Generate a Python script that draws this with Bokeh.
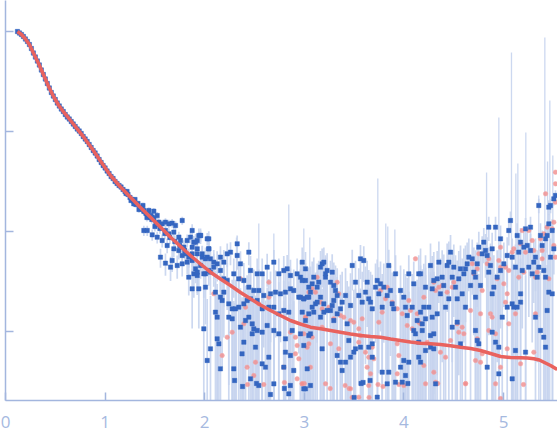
import numpy as np
from bokeh.plotting import figure
from bokeh.models import Range1d, FixedTicker
from bokeh.embed import file_html
from bokeh.resources import INLINE

# ---------------- data (q in 1/nm, intensity as log10 values) -------------
q_low = [0.12,0.14,0.16,0.18,0.20,0.22,0.24,0.26,0.28,0.30,0.32,0.34,0.36,0.38,0.40,0.42,0.44,0.46,0.48,0.50,
         0.52,0.54,0.56,0.58,0.60,0.62,0.64,0.66,0.68,0.70,0.72,0.74,0.76,0.78,0.80,0.82,0.84,0.86,0.88,0.90,
         0.92,0.94,0.96,0.98,1.00,1.02,1.04,1.06,1.08,1.10,1.12,1.14,1.16,1.18,1.20]
logI_low = [0.00,-0.015,-0.03,-0.05,-0.075,-0.10,-0.13,-0.17,-0.215,-0.255,-0.295,-0.335,-0.385,-0.43,-0.475,-0.52,-0.565,-0.61,-0.645,-0.68,
            -0.715,-0.745,-0.775,-0.80,-0.83,-0.855,-0.875,-0.90,-0.925,-0.95,-0.975,-0.995,-1.02,-1.05,-1.075,-1.10,-1.13,-1.16,-1.19,-1.215,
            -1.245,-1.28,-1.31,-1.34,-1.365,-1.395,-1.42,-1.45,-1.47,-1.50,-1.52,-1.54,-1.555,-1.58,-1.60]

q_mid = [1.21,1.22,1.23,1.25,1.26,1.27,1.29,1.30,1.31,1.33,1.34,1.35,1.37,1.38,1.39,1.41,1.42,1.43,1.45,1.46,
         1.47,1.49,1.50,1.51,1.55,1.60,1.65,1.70,1.75,1.80,
         1.288,1.355,1.389,1.439,1.489,1.473,1.523,1.539,1.573,1.606,1.640,1.673,1.707,1.774,1.389,1.423,1.473,1.523,1.573,
         1.606,1.640,1.690,1.740,1.757,1.790,1.824,1.857,1.891,1.925,1.958,2.025,1.874,1.925,1.975,2.025,1.623,1.690,1.740,
         1.774,1.807,1.840,1.673,1.724,1.774,1.824,1.874,1.908,1.958,2.008,2.041,1.556,1.606,1.657,1.840,1.925,2.041]
logI_mid = [-1.62,-1.60,-1.63,-1.66,-1.69,-1.68,-1.70,-1.68,-1.73,-1.72,-1.78,-1.77,-1.76,-1.74,-1.80,-1.82,-1.86,-1.83,-1.86,-1.84,
            -1.88,-1.87,-1.95,-1.93,-1.97,-2.02,-2.06,-2.10,-2.14,-2.19,
            -1.723,-1.773,-1.79,-1.79,-1.797,-1.857,-1.84,-1.907,-1.923,-1.907,-1.923,-1.917,-1.94,-1.89,-1.99,-1.99,-2.033,-2.057,-2.09,
            -1.99,-2.023,-2.007,-2.057,-2.09,-2.157,-2.09,-2.057,-2.107,-2.09,-2.04,-2.073,-2.157,-2.173,-2.223,-2.257,-2.14,-2.173,-2.19,
            -2.24,-2.223,-2.257,-2.29,-2.34,-2.323,-2.307,-2.29,-2.373,-2.34,-2.423,-2.39,-2.257,-2.317,-2.357,-2.457,-2.44,-2.173]

q_a = [1.874,1.908,1.874,1.925,1.941,1.958,1.975,2.041,2.041,2.008,2.058,2.091,2.125,2.158,2.192,2.226,2.259,2.326,2.326,2.359,
       2.443,2.46,2.527,2.577,2.627,2.694,2.744,2.794,2.828,2.861,2.928,2.962,3.012,3.045,
       1.891,1.925,1.991,2.058,2.091,2.158,2.192,2.226,2.292,2.342,2.393,2.443,2.493,2.543,2.593,2.661,2.711,2.761,2.811,2.861,
       2.894,2.945,2.995,3.045,
       1.874,1.941,2.008,2.108,2.158,2.192,2.242,2.276,2.309,2.342,2.393,2.426,2.46,2.527,2.577,2.644,2.694,2.744,2.794,2.844,
       2.108,2.125,2.175,2.242,2.276,2.359,2.41,2.443,2.477,2.493,2.527,2.577,2.627,2.694,2.744,2.811,2.878,2.962,3.045,1.991,
       2.125,2.142,2.058,2.025,2.158,2.292,2.375,2.393,2.477,2.51,2.577,2.61,2.644,2.694,2.543,2.46,2.811,2.861,2.794,2.894,
       2.844,3.012,3.029,
       2.38,2.52,2.66,2.80,2.86,2.30]
logI_a = [-1.99,-2.107,-2.223,-2.223,-2.04,-2.04,-2.257,-2.073,-2.173,-2.273,-2.273,-2.307,-2.323,-2.257,-2.307,-2.223,-2.207,-2.123,-2.24,-2.323,
          -2.207,-2.39,-2.423,-2.423,-2.357,-2.307,-2.423,-2.39,-2.373,-2.44,-2.423,-2.457,-2.49,-2.557,
          -2.423,-2.407,-2.423,-2.407,-2.357,-2.39,-2.473,-2.49,-2.423,-2.473,-2.49,-2.557,-2.59,-2.59,-2.64,-2.623,-2.607,-2.623,-2.607,-2.573,
          -2.59,-2.657,-2.673,-2.657,
          -2.573,-2.573,-2.557,-2.607,-2.657,-2.607,-2.723,-2.773,-2.773,-2.757,-2.723,-2.69,-2.673,-2.69,-2.773,-2.757,-2.757,-2.823,-2.79,-2.807,
          -2.807,-2.857,-2.69,-2.857,-2.873,-2.957,-2.89,-2.857,-2.923,-2.973,-2.99,-3.007,-2.94,-2.99,-3.023,-3.073,-2.99,-3.023,-3.04,-2.973,
          -3.073,-3.123,-3.173,-3.29,-3.373,-3.373,-3.223,-3.107,-3.023,-3.157,-3.323,-3.357,-3.257,-3.523,-3.54,-3.473,-3.207,-3.24,-3.357,-3.39,
          -3.623,-3.573,-3.373,
          -3.55,-3.52,-3.63,-3.57,-3.54,-3.49]

q_b = [2.979,3.012,2.979,2.962,2.995,2.979,3.029,3.062,3.079,3.095,3.129,3.145,3.163,3.179,3.196,3.229,3.213,3.263,3.28,3.296,
       3.313,3.33,3.296,3.28,3.229,3.196,3.163,3.112,3.095,3.079,3.045,3.012,2.995,3.062,3.129,3.196,3.263,3.296,3.33,3.363,
       3.38,3.414,3.464,3.43,3.447,3.481,3.514,3.547,3.564,3.581,3.597,3.614,3.631,3.647,3.665,3.682,3.715,3.732,3.765,3.748,
       3.782,3.798,3.832,3.848,3.865,3.882,3.916,3.898,3.966,3.999,4.016,4.033,4.049,4.083,4.099,4.149,4.133,4.116,4.149,4.149,
       4.049,3.966,4.016,3.983,3.916,3.832,3.848,3.782,3.682,3.647,3.682,3.564,3.514,3.497,3.464,3.414,3.363,3.38,3.33,3.179,
       3.062,2.995,3.732,3.999,4.099,3.163,3.213,
       3.50,3.57,3.59,3.66,4.04]
logI_b = [-2.307,-2.373,-2.49,-2.657,-2.673,-2.807,-2.657,-2.607,-2.523,-2.457,-2.557,-2.507,-2.357,-2.323,-2.307,-2.39,-2.457,-2.507,-2.407,-2.54,
          -2.59,-2.64,-2.69,-2.74,-2.79,-2.807,-2.857,-2.723,-2.807,-2.757,-2.823,-2.89,-3.14,-3.023,-2.707,-2.723,-2.79,-2.89,-2.823,-2.773,
          -2.707,-2.64,-2.74,-2.923,-3.09,-2.34,-2.507,-2.64,-2.273,-2.707,-2.29,-2.607,-2.507,-2.673,-2.707,-2.773,-2.557,-2.49,-2.523,-2.623,
          -2.757,-2.557,-2.64,-2.34,-2.59,-2.723,-2.423,-2.773,-2.59,-2.657,-2.757,-2.84,-2.423,-2.757,-2.523,-2.423,-2.89,-3.023,-3.107,-3.257,
          -3.307,-3.357,-3.44,-3.507,-3.507,-3.523,-3.407,-3.407,-3.257,-3.157,-3.123,-3.157,-3.173,-3.207,-3.257,-3.307,-3.307,-3.39,-3.24,-3.173,
          -3.54,-3.573,-3.657,-3.29,-2.99,-2.657,-2.423,
          -3.66,-3.52,-3.51,-3.49,-3.52]

q_c = [4.167,4.217,4.267,4.284,4.3,4.334,4.351,4.384,4.4,4.367,4.418,4.434,4.451,4.468,4.485,4.501,4.518,4.535,4.551,4.568,
       4.585,4.602,4.618,4.635,4.618,4.652,4.669,4.686,4.702,4.719,4.736,4.719,4.752,4.769,4.786,4.802,4.819,4.836,4.852,4.869,
       4.886,4.852,4.886,4.903,4.92,4.936,4.97,4.97,4.987,5.003,5.037,5.053,5.07,5.087,5.087,5.12,5.103,5.137,5.153,5.171,
       5.188,5.171,5.204,5.221,5.238,5.254,5.271,5.271,5.288,5.304,5.321,5.338,5.354,5.354,5.371,5.388,5.404,5.422,5.422,5.438,
       5.455,5.455,5.472,5.472,5.489,5.505,5.505,5.522,5.455,5.489,5.438,5.422,5.404,5.371,5.321,5.171,5.137,5.12,5.221,5.037,
       4.953,4.92,4.886,4.836,4.953,5.087,4.736,4.752,4.719,4.568,4.535,4.485,4.451,4.334,4.3,4.284,4.25,4.217,4.2,4.167,
       4.267,4.217,4.267,4.3,4.167,4.318,4.184,4.184]
logI_c = [-2.423,-2.557,-2.34,-2.573,-2.49,-2.473,-2.307,-2.457,-2.54,-2.623,-2.757,-2.34,-2.307,-2.207,-2.457,-2.357,-2.557,-2.673,-2.473,-2.373,
          -2.623,-2.423,-2.373,-2.323,-2.757,-2.257,-2.54,-2.273,-2.407,-2.457,-2.323,-2.657,-2.157,-2.54,-2.223,-2.107,-2.19,-2.24,-2.407,-2.34,
          -2.173,-1.957,-2.623,-2.557,-1.957,-2.457,-2.073,-2.39,-2.857,-2.323,-2.24,-1.99,-1.89,-2.257,-2.723,-2.357,-2.757,-2.04,-2.207,-2.107,
          -2.39,-2.623,-2.157,-1.973,-2.14,-2.357,-1.957,-2.19,-2.423,-2.307,-2.257,-2.457,-2.357,-1.74,-2.04,-2.14,-2.39,-2.457,-2.073,-2.04,
          -1.923,-1.757,-1.74,-2.257,-1.99,-1.673,-2.173,-1.64,-2.607,-2.623,-2.79,-3.157,-3.057,-2.99,-2.857,-2.707,-2.757,-3.19,-3.207,-2.757,
          -3.157,-3.107,-3.007,-3.357,-3.423,-3.473,-3.09,-3.123,-2.99,-3.123,-2.907,-2.957,-2.673,-2.823,-3.023,-2.857,-2.757,-2.873,-2.757,-2.807,
          -3.04,-3.19,-3.157,-3.173,-3.307,-3.523,-2.923,-2.99]

# noise level (absolute sigma) of each q band; low-q band has a relative error
sigma_low_rel = 0.015
sigma_mid = 0.0012
sigma_a = 0.0016
sigma_b = 0.0020
sigma_c = 0.0030

# points whose intensity is negative, shown as |I| in pink
q_neg = [2.091,2.359,2.644,2.644,2.543,2.41,2.393,2.276,2.226,2.175,2.426,2.51,2.493,2.593,2.794,2.861,2.911,2.928,2.911,2.945,
         2.928,2.978,3.029,3.012,
         2.43,2.80,3.00,3.26,3.41,3.45,3.48,3.65,3.74,3.79,3.95,4.34,4.62,4.97,5.20,
         3.129,3.079,3.045,3.112,3.163,3.179,3.246,3.33,3.346,3.363,3.296,3.396,3.464,3.497,3.581,3.012,2.995,3.079,3.045,3.179,
         3.263,3.346,3.547,3.564,3.547,3.614,3.647,3.665,3.631,3.647,3.698,3.682,3.748,3.782,3.765,3.815,3.832,3.882,3.933,3.983,
         4.033,4.049,4.066,4.116,4.133,4.149,4.083,3.933,3.949,3.933,3.999,3.464,3.213,3.062,2.979,3.547,
         4.167,4.2,4.3,4.318,4.351,4.384,4.434,4.485,4.501,4.535,4.551,4.585,4.602,4.669,4.686,4.702,4.736,4.752,4.786,4.769,
         4.836,4.852,4.869,4.886,4.852,4.92,4.936,4.953,4.97,4.97,5.003,5.02,5.02,5.037,5.053,5.053,5.087,5.103,5.12,5.153,
         5.171,5.188,5.204,5.221,5.254,5.288,5.304,5.321,5.321,5.338,5.371,5.388,5.388,5.404,5.422,5.438,5.455,5.489,5.505,5.522,
         5.522,5.522,5.505,5.522,5.171,5.304,5.037,4.97,4.92,4.618,4.786,4.736,4.719,4.769,4.468,4.418,4.367,4.318,4.3,4.234,
         4.2,4.217]
logI_neg = [-2.623,-2.473,-2.507,-2.657,-2.723,-2.757,-2.923,-3.007,-3.057,-3.24,-3.357,-3.307,-3.44,-3.53,-3.357,-3.007,-3.057,-3.14,-3.223,-3.273,
            -3.473,-3.523,-3.157,-2.857,
            -3.53,-3.51,-3.52,-3.57,-3.54,-3.57,-3.66,-3.66,-3.53,-3.55,-3.53,-3.52,-3.52,-3.67,-3.53,
            -2.457,-2.573,-2.607,-2.607,-2.707,-2.773,-2.757,-2.507,-2.623,-2.84,-2.873,-2.857,-2.89,-2.907,-2.873,-2.857,-3.023,-3.057,-3.123,-2.957,
            -3.123,-3.173,-2.973,-3.04,-3.107,-3.207,-3.257,-3.423,-3.357,-3.54,-3.273,-3.157,-2.907,-2.807,-2.59,-2.673,-2.557,-2.707,-2.773,-2.823,
            -2.94,-2.69,-2.79,-2.273,-2.823,-2.907,-2.973,-3.123,-3.24,-3.423,-3.54,-3.573,-3.523,-3.357,-3.523,-3.657,
            -2.923,-2.657,-2.507,-2.59,-2.557,-2.54,-2.607,-2.557,-2.507,-2.923,-3.007,-2.957,-3.023,-2.79,-2.323,-2.423,-2.373,-2.223,-2.59,-2.823,
            -2.323,-2.273,-2.823,-2.857,-2.99,-3.023,-2.473,-2.29,-2.157,-2.357,-2.523,-2.357,-2.707,-2.623,-2.923,-2.39,-2.207,-2.173,-2.823,-2.457,
            -2.123,-1.99,-2.407,-2.207,-1.99,-2.09,-2.19,-2.457,-2.823,-2.407,-2.073,-2.19,-2.273,-2.023,-1.623,-1.957,-2.473,-1.973,-1.907,-1.707,
            -1.523,-1.407,-2.14,-2.257,-3.323,-3.207,-3.173,-3.357,-3.523,-3.523,-3.223,-3.073,-3.29,-3.307,-3.09,-3.257,-3.207,-3.507,-3.407,-3.107,
            -3.34,-3.523]

# very large error bars (drawn from the bottom of the plot up to these values)
q_spike = [2.319, 2.543, 2.694, 2.844, 2.995, 3.055, 3.738, 3.818, 3.838, 3.909,
           4.83, 4.953, 5.08, 5.124, 5.144, 5.224, 5.354, 5.415, 5.442, 5.465, 5.495]
logI_spike_top = [-2.06, -1.92, -2.02, -1.73, -1.97, -2.06, -1.47, -1.92, -1.95, -1.98,
                  -1.41, -0.86, -0.21, -1.42, -1.32, -1.01, -1.64, -0.06, -1.30, -0.69, -1.24]

# model fit curve
q_fit = [0.12,0.16,0.20,0.24,0.28,0.33,0.385,0.435,0.485,0.535,0.585,0.653,0.72,0.786,0.87,0.95,1.054,1.15,1.255,1.35,
         1.456,1.557,1.657,1.757,1.857,1.958,2.058,2.159,2.259,2.36,2.46,2.56,2.661,2.76,2.861,2.96,3.062,3.163,3.263,3.363,
         3.464,3.564,3.665,3.765,3.866,3.966,4.067,4.167,4.267,4.367,4.468,4.568,4.669,4.769,4.87,4.97,5.07,5.171,5.24,5.305,
         5.36,5.405,5.472,5.539]
logI_fit = [0.0,-0.03,-0.075,-0.13,-0.215,-0.315,-0.44,-0.555,-0.655,-0.74,-0.807,-0.89,-0.973,-1.057,-1.173,-1.29,-1.44,-1.55,-1.657,-1.755,
            -1.857,-1.957,-2.057,-2.15,-2.24,-2.325,-2.407,-2.475,-2.54,-2.61,-2.673,-2.735,-2.79,-2.84,-2.89,-2.925,-2.957,-2.973,-2.99,-3.007,
            -3.025,-3.04,-3.05,-3.057,-3.075,-3.09,-3.105,-3.117,-3.123,-3.13,-3.143,-3.157,-3.17,-3.19,-3.22,-3.25,-3.26,-3.263,-3.266,-3.273,
            -3.285,-3.307,-3.34,-3.38]

x_ticks = [0, 1, 2, 3, 4, 5]
y_ticks = [0.001, 0.01, 0.1, 1.0]

# ---------------- build ----------------
Y_MIN = 10 ** -3.69
Y_MAX = 10 ** 0.31
FLOOR = Y_MIN * 0.5

def as_arrays(qs, ls):
    n = min(len(qs), len(ls))
    return np.array(qs[:n], float), 10.0 ** np.array(ls[:n], float)

qs_all, I_all, lo_all, hi_all = [], [], [], []
for qs, ls, sig in [(q_low, logI_low, None), (q_mid, logI_mid, sigma_mid), (q_a, logI_a, sigma_a),
                    (q_b, logI_b, sigma_b), (q_c, logI_c, sigma_c)]:
    q, I = as_arrays(qs, ls)
    s = I * sigma_low_rel if sig is None else np.full_like(I, sig)
    qs_all.append(q); I_all.append(I)
    lo_all.append(np.maximum(I - s, FLOOR)); hi_all.append(I + s)
q_data = np.concatenate(qs_all); I_data = np.concatenate(I_all)
lo = np.concatenate(lo_all); hi = np.concatenate(hi_all)

qn, In = as_arrays(q_neg, logI_neg)
qsp, Isp = as_arrays(q_spike, logI_spike_top)
qf, If = as_arrays(q_fit, logI_fit)

axis_col = "#a3b6de"

p = figure(width=557, height=438, x_range=Range1d(0, 5.542), y_range=Range1d(Y_MIN, Y_MAX),
           y_axis_type="log", output_backend="svg", toolbar_location=None,
           min_border_left=5, min_border_right=0, min_border_top=0, min_border_bottom=38)
p.outline_line_color = None
p.xgrid.visible = False
p.ygrid.visible = False
p.background_fill_color = "white"

bar_col = "#c6d4ee"
p.segment(x0=q_data, y0=lo, x1=q_data, y1=hi, line_color=bar_col, line_width=1.7, line_alpha=0.9)
p.segment(x0=qsp, y0=np.full_like(Isp, FLOOR), x1=qsp, y1=Isp, line_color=bar_col, line_width=1.3, line_alpha=0.9)
p.scatter(qn, In, marker="circle", size=4.5, fill_color="#f08c8c", line_color="#f4a5a5", line_width=0.5, fill_alpha=0.8)
p.scatter(q_data, I_data, marker="square", size=4.3, fill_color="#3566c0", line_color="#3566c0", line_width=0.5)
p.line(qf, If, line_color="#e9625e", line_width=3.5)

p.xaxis.ticker = FixedTicker(ticks=x_ticks)
p.yaxis.ticker = FixedTicker(ticks=y_ticks)
for ax in (p.xaxis[0], p.yaxis[0]):
    ax.axis_line_color = axis_col
    ax.axis_line_width = 1.5
    ax.major_tick_line_color = axis_col
    ax.major_tick_line_width = 1.5
    ax.major_tick_in = 8
    ax.major_tick_out = 0
    ax.minor_tick_line_color = None
# y tick labels are not shown in the chart
p.yaxis.major_label_text_font_size = "2px"
p.yaxis.major_label_text_alpha = 0
p.yaxis.major_label_standoff = 0
p.xaxis.major_label_text_font = "Open Sans"
p.xaxis.major_label_text_font_size = "17px"
p.xaxis.major_label_text_color = "#a6b9df"
p.xaxis.major_label_standoff = 15

html = file_html(p, INLINE)
html = html.replace("<head>", "<head><style>html,body{margin:0;padding:0;overflow:hidden}</style>", 1)
open("out.html", "w").write(html)
